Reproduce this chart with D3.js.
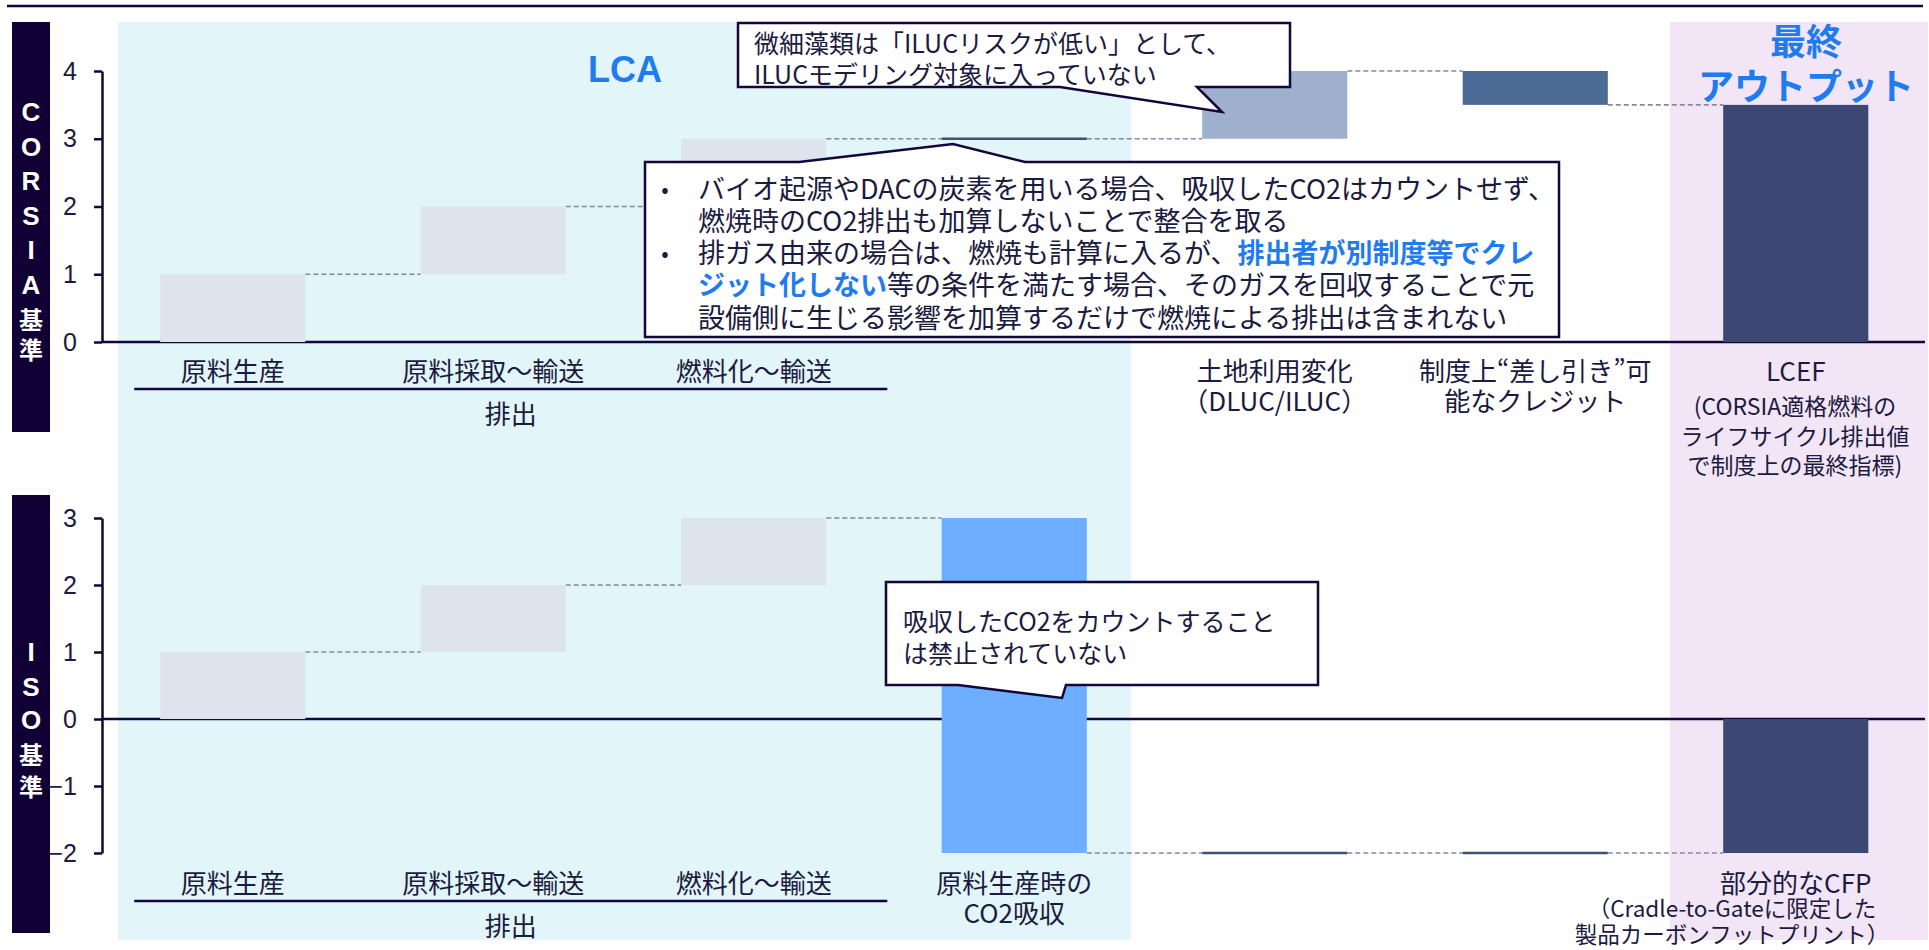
<!DOCTYPE html>
<html lang="ja">
<head>
<meta charset="UTF-8">
<script src="https://cdn.jsdelivr.net/npm/d3@7"></script>
<style>
  html, body { margin: 0; padding: 0; background: #fff; }
  svg text { font-family: "Noto Sans CJK JP", "Noto Sans", sans-serif; fill: #1b1a40; }
  .tick text { font-family: "Liberation Sans", Arial, sans-serif; font-size: 25px; fill: #1b1a40; }
  .axis path, .axis line { stroke: #12063a; stroke-width: 2.5; }
  .cat { font-size: 26px; text-anchor: middle; }
  .sub { font-size: 23px; text-anchor: middle; }
  .note { font-size: 25px; }
  .side { font-weight: bold; fill: #fff; text-anchor: middle; }
</style>
</head>
<body>
<div id="chart"></div>
<script>
// ---- data ----
var categories = ["原料生産", "原料採取～輸送", "燃料化～輸送", "原料生産時のCO2吸収", "土地利用変化", "差し引き可能なクレジット", "最終アウトプット"];
var corsiaDeltas = [1, 1, 1, 0, 1, -0.5];   // last bar = running total
var isoDeltas = [1, 1, 1, -5, 0, 0];
var corsiaTicks = [0, 1, 2, 3, 4];
var isoTicks = [-2, -1, 0, 1, 2, 3];
var barColors = ["#dde4ee", "#dde4ee", "#dde4ee", "#6daeff", "#9eb0cc", "#4b6b96", "#3d4773"];

var corsiaLabels = [["原料生産"], ["原料採取～輸送"], ["燃料化～輸送"], [], ["土地利用変化", "（DLUC/ILUC）"], ["制度上“差し引き”可", "能なクレジット"], ["LCEF"]];
var corsiaTotalNote = ["(CORSIA適格燃料の", "ライフサイクル排出値", "で制度上の最終指標)"];
var isoLabels = [["原料生産"], ["原料採取～輸送"], ["燃料化～輸送"], ["原料生産時の", "CO2吸収"], [], [], ["部分的なCFP"]];
var isoTotalNote = ["（Cradle-to-Gateに限定した", "製品カーボンフットプリント）"];

var ink = "#12063a", blue = "#1f7cf0", zeroColor = "#3d5272", dashColor = "#8c84a0";

var W = 1929, H = 950;
var svg = d3.select("#chart").append("svg").attr("width", W).attr("height", H);

var x = d3.scaleBand()
  .domain(d3.range(categories.length))
  .range([102.5, 1926])
  .paddingInner(0.443)
  .paddingOuter(0.2215);
var bw = x.bandwidth();

// background panels
svg.append("rect").attr("x", 118).attr("y", 22).attr("width", 1013).attr("height", 918).attr("fill", "#e2f5f8");
svg.append("rect").attr("x", 1670).attr("y", 22).attr("width", 258).attr("height", 918).attr("fill", "#f1e5f6");

// top rule
svg.append("line").attr("x1", 7).attr("x2", 1923).attr("y1", 6).attr("y2", 6)
  .attr("stroke", ink).attr("stroke-width", 2.5);

function waterfall(deltas) {
  var run = 0;
  var out = deltas.map(function(d, i) { var s = run; run += d; return { i: i, start: s, end: run }; });
  out.push({ i: deltas.length, start: 0, end: run });
  return out;
}

function sideLabel(chars, y0, steps) {
  var g = svg.append("g");
  var y = y0;
  chars.forEach(function(c, k) {
    var latin = /[A-Z]/.test(c);
    g.append("text").attr("class", "side").attr("x", 31).attr("y", y)
      .attr("dominant-baseline", "central")
      .style("font-size", latin ? "26px" : "24px")
      .style("font-family", latin ? "'Liberation Sans', Arial, sans-serif" : null)
      .text(c);
    y += steps[k] || 0;
  });
}

function drawPanel(cfg) {
  var y = d3.scaleLinear().domain(cfg.domain).range(cfg.range);
  var bars = waterfall(cfg.deltas);

  svg.append("rect").attr("x", 12).attr("y", cfg.sideTop).attr("width", 38).attr("height", cfg.sideH).attr("fill", "#110036");
  sideLabel(cfg.side, cfg.sideY0, cfg.sideSteps);

  svg.append("g").attr("class", "axis")
    .attr("transform", "translate(102,0)")
    .call(d3.axisLeft(y).tickValues(cfg.ticks).tickFormat(d3.format("d"))
      .tickSize(8).tickSizeOuter(0).tickPadding(17));

  // zero line
  svg.append("line").attr("x1", 102).attr("x2", 1925).attr("y1", y(0)).attr("y2", y(0))
    .attr("stroke", ink).attr("stroke-width", 2.5);

  // connectors
  svg.append("g").selectAll("line").data(bars.slice(0, -1)).enter().append("line")
    .attr("x1", function(d) { return x(d.i) + bw; })
    .attr("x2", function(d) { return x(d.i + 1); })
    .attr("y1", function(d) { return y(d.end); })
    .attr("y2", function(d) { return y(d.end); })
    .attr("stroke", dashColor).attr("stroke-width", 1.6).attr("stroke-dasharray", "5,3");

  // bars
  svg.append("g").selectAll("rect").data(bars).enter().append("rect")
    .attr("x", function(d) { return x(d.i); })
    .attr("width", bw)
    .attr("y", function(d) {
      return d.start === d.end ? y(d.end) - 1.25 : y(Math.max(d.start, d.end));
    })
    .attr("height", function(d) {
      return d.start === d.end ? 2.5 : Math.abs(y(d.start) - y(d.end));
    })
    .attr("fill", function(d) { return d.start === d.end ? zeroColor : barColors[d.i]; });

  // category labels
  cfg.labels.forEach(function(lines, i) {
    lines.forEach(function(t, k) {
      svg.append("text").attr("class", "cat")
        .attr("x", x(i) + bw / 2).attr("y", cfg.labelY + k * 30)
        .attr("dominant-baseline", "central").text(t);
    });
  });

  // bracket over the three emission steps
  var bx0 = x(0) - 26, bx1 = x(2) + bw + 61;
  svg.append("line").attr("x1", bx0).attr("x2", bx1)
    .attr("y1", cfg.labelY + 20).attr("y2", cfg.labelY + 20)
    .attr("stroke", ink).attr("stroke-width", 2.5);
  svg.append("text").attr("class", "cat")
    .attr("x", (bx0 + bx1) / 2).attr("y", cfg.labelY + 43)
    .attr("dominant-baseline", "central").text("排出");

  cfg.note.lines.forEach(function(t, k) {
    svg.append("text").attr("class", "sub")
      .attr("x", cfg.note.x).attr("y", cfg.note.y + k * cfg.note.step)
      .attr("dominant-baseline", "central")
      .style("font-size", cfg.note.size + "px").text(t);
  });
  return y;
}

drawPanel({
  domain: [0, 4], range: [342, 71], deltas: corsiaDeltas, ticks: corsiaTicks,
  labels: corsiaLabels, labelY: 369,
  sideTop: 22, sideH: 410, side: ["C", "O", "R", "S", "I", "A", "基", "準"],
  sideY0: 112, sideSteps: [34.6, 34.6, 34.6, 34.6, 34.6, 33, 30],
  note: { lines: corsiaTotalNote, x: 1795, y: 405, step: 29.5, size: 23 }
});

drawPanel({
  domain: [-2, 3], range: [853, 518], deltas: isoDeltas, ticks: isoTicks,
  labels: isoLabels, labelY: 881,
  sideTop: 495, sideH: 438, side: ["I", "S", "O", "基", "準"],
  sideY0: 652, sideSteps: [34.5, 33.5, 33, 32],
  note: { lines: isoTotalNote, x: 1732, y: 907, step: 26, size: 22.5 }
});

// titles
svg.append("text").attr("x", 625).attr("y", 82).attr("text-anchor", "middle")
  .style("font-family", "'Liberation Sans', Arial, sans-serif").style("font-weight", "bold")
  .style("font-size", "36px").style("fill", blue).text("LCA");
["最終", "アウトプット"].forEach(function(t, k) {
  svg.append("text").attr("x", 1806).attr("y", 39 + k * 45).attr("text-anchor", "middle")
    .attr("dominant-baseline", "central")
    .style("font-weight", "bold").style("font-size", "36px").style("fill", blue).text(t);
});

// callouts
function callout(path) {
  svg.append("path").attr("d", path).attr("fill", "#fff")
    .attr("stroke", ink).attr("stroke-width", 2.5).attr("stroke-linejoin", "miter");
}

callout("M738,23 L1290,23 L1290,87 L1197,87 L1222,112 L1060,87 L738,87 Z");
["微細藻類は「ILUCリスクが低い」として、", "ILUCモデリング対象に入っていない"].forEach(function(t, k) {
  svg.append("text").attr("class", "note").attr("x", 754).attr("y", 42 + k * 31)
    .attr("dominant-baseline", "central").text(t);
});

callout("M645,162 L799,162 L953,144 L1025,162 L1559,162 L1559,337 L645,337 Z");
var midLines = [
  [["バイオ起源やDACの炭素を用いる場合、吸収したCO2はカウントせず、", false]],
  [["燃焼時のCO2排出も加算しないことで整合を取る", false]],
  [["排ガス由来の場合は、燃焼も計算に入るが、", false], ["排出者が別制度等でクレ", true]],
  [["ジット化しない", true], ["等の条件を満たす場合、そのガスを回収することで元", false]],
  [["設備側に生じる影響を加算するだけで燃焼による排出は含まれない", false]]
];
midLines.forEach(function(parts, k) {
  var t = svg.append("text").attr("x", 698).attr("y", 186.5 + k * 32.3)
    .attr("dominant-baseline", "central").style("font-size", "27px");
  parts.forEach(function(p) {
    t.append("tspan").text(p[0])
      .style("fill", p[1] ? blue : null).style("font-weight", p[1] ? "bold" : null);
  });
});
[0, 2].forEach(function(k) {
  svg.append("text").attr("x", 665).attr("y", 186.5 + k * 32.3).attr("text-anchor", "middle")
    .attr("dominant-baseline", "central").style("font-size", "22px").text("•");
});

callout("M886,582 L1318,582 L1318,685 L1066,685 L1062,698 L958,685 L886,685 Z");
["吸収したCO2をカウントすること", "は禁止されていない"].forEach(function(t, k) {
  svg.append("text").attr("class", "note").attr("x", 903).attr("y", 620 + k * 32)
    .attr("dominant-baseline", "central").text(t);
});
</script>
</body>
</html>
